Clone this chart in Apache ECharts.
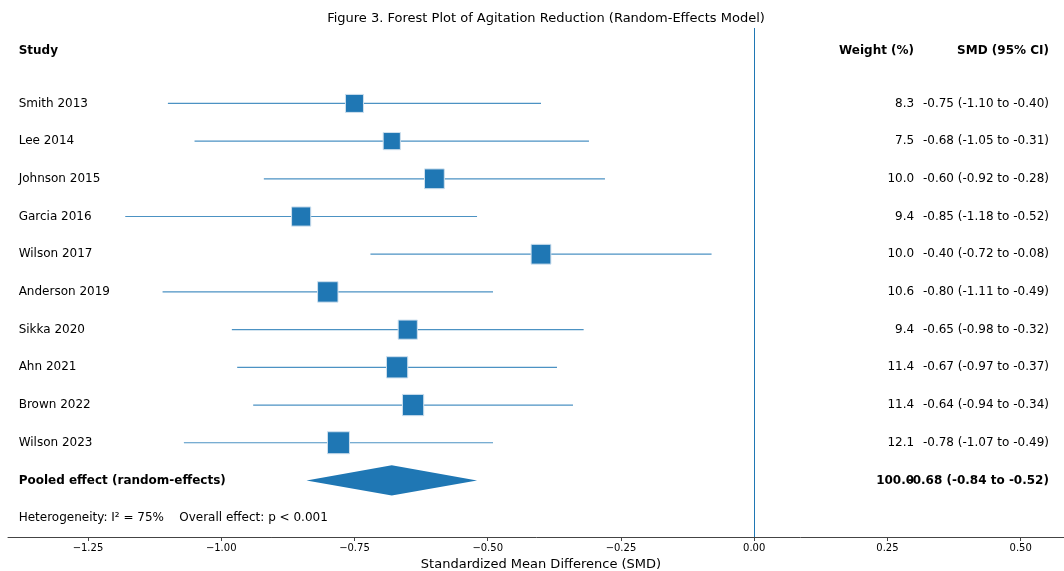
<!DOCTYPE html>
<html>
<head>
<meta charset="utf-8">
<script src="https://cdn.jsdelivr.net/npm/echarts@6/dist/echarts.min.js"></script>
<style>
html, body {margin: 0; padding: 0; background: #fff;}
#chart {width: 1064px; height: 571px;}
</style>
</head>
<body>
<div id="chart"></div>
<script>
// study level data
var studies = ['Smith 2013', 'Lee 2014', 'Johnson 2015', 'Garcia 2016', 'Wilson 2017',
    'Anderson 2019', 'Sikka 2020', 'Ahn 2021', 'Brown 2022', 'Wilson 2023'];
var smd = [-0.75, -0.68, -0.60, -0.85, -0.40, -0.80, -0.65, -0.67, -0.64, -0.78];
var ci_low = [-1.10, -1.05, -0.92, -1.18, -0.72, -1.11, -0.98, -0.97, -0.94, -1.07];
var ci_high = [-0.40, -0.31, -0.28, -0.52, -0.08, -0.49, -0.32, -0.37, -0.34, -0.49];
var weights = [8.3, 7.5, 10.0, 9.4, 10.0, 10.6, 9.4, 11.4, 11.4, 12.1];

// pooled
var pooled = {smd: -0.68, low: -0.84, high: -0.52, weight: 100.0};
var het_text = 'Heterogeneity: I\u00b2 = 75%    Overall effect: p < 0.001';

var x_ticks = [-1.25, -1.00, -0.75, -0.50, -0.25, 0.00, 0.25, 0.50];

// column positions (data units on the x axis)
var col_study = -1.38, col_weight = 0.30, col_smd = 0.553;
var row_header = -1.4, row_pooled = studies.length, row_het = studies.length + 1;

const blue = '#1f77b4';
const font = '"DejaVu Sans", sans-serif';

function fmt(v) { return v.toFixed(2); }

var study_rows = studies.map((s, i) => [smd[i], i, ci_low[i], ci_high[i], weights[i]]);

var texts = [];
texts.push([col_study, row_header, 'Study', 'left', true]);
texts.push([col_weight, row_header, 'Weight (%)', 'right', true]);
texts.push([col_smd, row_header, 'SMD (95% CI)', 'right', true]);
studies.forEach((s, i) => {
    texts.push([col_study, i, s, 'left', false]);
    texts.push([col_weight, i, weights[i].toFixed(1), 'right', false]);
    texts.push([col_smd, i, `${fmt(smd[i])} (${fmt(ci_low[i])} to ${fmt(ci_high[i])})`, 'right', false]);
});
texts.push([col_study, row_pooled, 'Pooled effect (random-effects)', 'left', true]);
texts.push([col_weight, row_pooled, pooled.weight.toFixed(1), 'right', true]);
texts.push([col_smd, row_pooled, `${fmt(pooled.smd)} (${fmt(pooled.low)} to ${fmt(pooled.high)})`, 'right', true]);
texts.push([col_study, row_het, het_text, 'left', false]);

var chart = echarts.init(document.getElementById('chart'));
chart.setOption({
    animation: false,
    title: {
        text: 'Figure 3. Forest Plot of Agitation Reduction (Random-Effects Model)',
        left: 541, top: 7, textAlign: 'center',
        textStyle: {fontFamily: font, fontSize: 13, fontWeight: 'normal', color: '#000'}
    },
    grid: {left: 8, top: 28, width: 1066, bottom: 34, containLabel: false, outerBoundsMode: 'none'},
    xAxis: {
        type: 'value', min: -1.4, max: 0.6,
        name: 'Standardized Mean Difference (SMD)',
        nameLocation: 'middle', nameGap: 21,
        nameTextStyle: {fontFamily: font, fontSize: 13, color: '#000'},
        splitLine: {show: false},
        axisLine: {show: true, onZero: false, lineStyle: {color: '#444', width: 1}},
        axisTick: {show: true, length: 4, lineStyle: {color: '#444'},
            customValues: x_ticks},
        axisLabel: {fontFamily: font, fontSize: 10, color: '#000', margin: 6,
            customValues: x_ticks,
            formatter: v => (v < 0 ? '\u2212' : '') + Math.abs(v).toFixed(2)}
    },
    yAxis: {
        type: 'value', min: -2, max: 11.5, inverse: true, show: false,
        splitLine: {show: false}
    },
    series: [
        {
            type: 'custom',
            data: study_rows,
            renderItem: function (params, api) {
                var c = api.coord([api.value(0), api.value(1)]);
                var l = api.coord([api.value(2), api.value(1)]);
                var h = api.coord([api.value(3), api.value(1)]);
                var size = 9.3 + 1.05 * api.value(4);
                return {
                    type: 'group',
                    children: [
                        {type: 'line', shape: {x1: l[0], y1: c[1], x2: h[0], y2: c[1]},
                            style: {stroke: blue, lineWidth: 1.2, opacity: 0.8}},
                        {type: 'rect', shape: {x: c[0] - size / 2, y: c[1] - size / 2, width: size, height: size},
                            style: {fill: blue, stroke: '#cfe0ee', lineWidth: 1}}
                    ]
                };
            },
            markLine: {
                silent: true, symbol: 'none', label: {show: false},
                lineStyle: {color: blue, width: 1, type: 'solid'},
                data: [{xAxis: 0}]
            },
            z: 3
        },
        {
            type: 'custom',
            data: [[pooled.smd, row_pooled, pooled.low, pooled.high]],
            renderItem: function (params, api) {
                var c = api.coord([api.value(0), api.value(1)]);
                var l = api.coord([api.value(2), api.value(1)]);
                var h = api.coord([api.value(3), api.value(1)]);
                var top = api.coord([api.value(0), api.value(1) - 0.4]);
                var bot = api.coord([api.value(0), api.value(1) + 0.4]);
                return {
                    type: 'polygon',
                    shape: {points: [[l[0], c[1]], [c[0], top[1]], [h[0], c[1]], [c[0], bot[1]]]},
                    style: {fill: blue}
                };
            },
            z: 3
        },
        {
            type: 'custom',
            data: texts,
            renderItem: function (params, api) {
                var d = texts[params.dataIndex];
                var p = api.coord([d[0], d[1]]);
                return {
                    type: 'text', x: p[0], y: p[1],
                    style: {
                        text: d[2], align: d[3], verticalAlign: 'middle',
                        font: (d[4] ? 'bold ' : '') + '12px ' + font,
                        fill: '#000'
                    }
                };
            },
            z: 4
        }
    ]
});
</script>
</body>
</html>
